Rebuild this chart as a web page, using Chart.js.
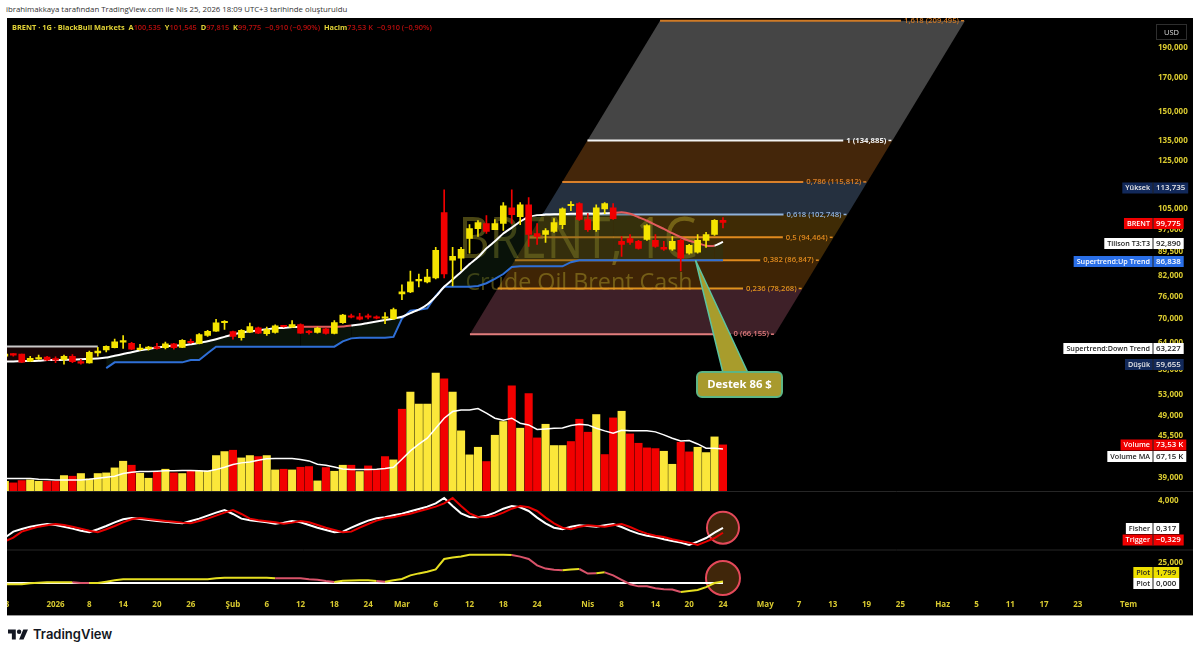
<!DOCTYPE html>
<html lang="tr">
<head>
<meta charset="utf-8">
<title>BRENT 1G</title>
<script src="https://cdn.jsdelivr.net/npm/chart.js@4/dist/chart.umd.min.js"></script>
<style>
    html, body { margin: 0; padding: 0; background: #fff; width: 1200px; height: 654px; overflow: hidden; }
    body { font-family: "Open Sans", sans-serif; position: relative; }
    #credit { position: absolute; left: 6px; top: 4px; font-size: 7.8px; color: #333; white-space: nowrap; }
    #panel { position: absolute; left: 7px; top: 18px; width: 1186px; height: 597px; background: #000; box-shadow: 0 1px 0 #999; }
    #legend { position: absolute; left: 5px; top: 4px; font-size: 7.4px; font-weight: 700; color: #e2d336; white-space: nowrap; z-index: 2; }
    #legend b { color: #b80d0d; font-weight: 600; }
    #usd { position: absolute; left: 1149px; top: 6px; width: 29px; height: 14px; border: 1px solid #2e2e2e; color: #ddd; font-size: 7.5px; text-align: center; line-height: 14px; z-index: 2; }
    #logo { position: absolute; left: 8px; top: 626px; display: flex; align-items: center; gap: 5px; color: #131722; font: 600 13px Inter, sans-serif; }
</style>
</head>
<body>
<div id="credit">ibrahimakkaya tarafından TradingView.com ile Nis 25, 2026 18:09 UTC+3 tarihinde oluşturuldu</div>
<div id="panel">
    <div id="legend">BRENT · 1G · BlackBull Markets&nbsp; A<b>100,535</b>&nbsp; Y<b>101,545</b>&nbsp; D<b>97,815</b>&nbsp; K<b>99,775</b>&nbsp; <b>−0,910 (−0,90%)</b>&nbsp; Hacim<b>73,53 K</b>&nbsp; <b>−0,910 (−0,90%)</b></div>
    <div id="usd">USD</div>
    <canvas id="chart" width="1186" height="597"></canvas>
</div>
<div id="logo">
    <svg width="20" height="11" viewBox="0 0 36 18" fill="#131722"><path d="M14 18H7V7H0V0h14v18zM28 18h-8L27.5 0H36L28 18z"/><circle cx="20" cy="4" r="4"/></svg>
    <span>TradingView</span>
</div>

<script>
// ----------------------
// DATA (price in thousands, one row per trading day)
// ----------------------
const opens = [
    61.0, 61.5, 61.5, 59.9, 60.4, 60.8, 60.35, 60.3, 61.0, 59.8,
    59.5, 61.75, 62.45, 62.95, 64.25, 64.0, 62.5, 62.75, 63.0, 62.95,
    63.85, 63.0, 64.45, 63.95, 65.85, 66.9, 69.0, 66.8, 65.3, 66.65,
    67.75, 66.3, 66.6, 68.2, 67.9, 68.55, 66.7, 66.6, 67.5, 66.35,
    69.05, 70.8, 70.55, 70.6, 70.55, 70.15, 70.05, 76.75, 77.3, 80.5,
    80.2, 81.35, 103.45, 86.85, 87.5, 94.05, 97.55, 99.4, 97.2, 99.4,
    105.3, 101.9, 106.5, 95.8, 95.45, 96.54, 99.0, 106.1, 106.9, 100.85,
    97.2, 104.9, 105.3, 93.09, 94.05, 93.09, 93.75, 93.4, 91.05, 90.4,
    93.4, 89.1, 89.45, 93.4, 95.45, 100.535
];
const closes = [
    61.5, 61.25, 59.7, 60.55, 60.7, 60.15, 60.15, 61.0, 59.8, 59.45,
    61.9, 62.15, 63.25, 64.35, 64.45, 62.6, 62.75, 62.95, 62.8, 63.85,
    62.95, 64.7, 64.1, 66.05, 66.85, 69.0, 69.25, 65.6, 67.1, 68.05,
    66.4, 67.3, 68.2, 68.0, 68.55, 66.4, 66.55, 67.65, 66.35, 69.05,
    71.0, 70.4, 69.9, 70.4, 70.15, 70.4, 72.4, 77.3, 80.2, 80.75,
    81.65, 90.05, 82.55, 88.1, 90.4, 97.55, 99.75, 96.54, 99.4, 106.1,
    102.7, 106.5, 95.45, 94.75, 96.85, 99.75, 104.9, 106.5, 100.85, 97.2,
    105.3, 106.9, 101.2, 92.05, 92.75, 90.7, 98.65, 91.4, 90.4, 93.09,
    87.5, 91.7, 93.4, 95.45, 100.535, 99.775
];
const highs = [
    61.9, 61.6, 61.5, 61.0, 61.25, 61.0, 60.9, 61.25, 61.4, 60.3,
    62.2, 63.05, 63.4, 65.0, 65.85, 64.2, 63.75, 63.25, 64.0, 64.25,
    64.0, 64.85, 64.95, 66.3, 67.1, 69.9, 69.55, 66.95, 67.3, 68.9,
    67.9, 67.9, 68.5, 68.3, 69.55, 68.7, 67.1, 67.9, 67.65, 69.55,
    71.15, 71.25, 71.45, 71.25, 70.8, 71.6, 72.85, 79.3, 83.45, 82.55,
    84.0, 91.05, 112.5, 91.05, 91.05, 99.0, 100.5, 102.3, 100.85, 107.3,
    112.5, 107.3, 109.3, 99.4, 97.55, 101.2, 105.3, 107.7, 107.3, 103.07,
    106.5, 107.3, 106.9, 94.75, 95.45, 93.4, 99.0, 95.45, 93.09, 94.75,
    93.75, 92.05, 95.45, 96.2, 100.85, 101.545
];
const lows = [
    60.55, 61.0, 59.6, 59.8, 60.3, 60.0, 59.6, 59.25, 59.6, 59.25,
    59.45, 61.0, 62.0, 62.9, 62.8, 62.5, 62.38, 62.38, 62.6, 62.65,
    62.6, 62.95, 63.95, 63.85, 65.6, 66.85, 67.3, 64.95, 64.7, 66.5,
    66.3, 65.85, 66.4, 67.9, 67.85, 66.35, 66.15, 66.4, 66.15, 66.25,
    68.85, 70.25, 69.75, 70.0, 70.0, 68.75, 69.8, 75.1, 77.05, 78.75,
    79.9, 81.05, 81.35, 79.0, 83.7, 89.1, 94.75, 95.8, 97.2, 96.85,
    99.4, 99.0, 91.4, 92.05, 92.75, 96.2, 97.55, 104.2, 100.5, 96.54,
    96.54, 103.07, 100.85, 88.1, 92.05, 90.4, 93.4, 91.05, 90.05, 90.05,
    83.46, 88.8, 89.1, 91.05, 95.1, 97.815
];
const volumes = [
    16.3, 13.7, 17.3, 18.4, 16.3, 16.3, 16.3, 25.2, 24.2, 28.4,
    20, 28.4, 29.4, 37.3, 47.8, 41.5, 28.9, 21, 30.5, 35.2,
    29.4, 28.4, 32, 32.6, 32.6, 56.7, 63, 65.1, 53, 56.7,
    55.1, 56.7, 34.1, 35.2, 34.1, 38.3, 39.4, 16.8, 37.8, 32,
    41.5, 41.5, 31.5, 40.4, 34.7, 55.1, 49.9, 129.7, 156.5, 137.6,
    137.6, 186.4, 177.5, 156.5, 95.6, 57.8, 69.8, 47.3, 88.7, 110.3,
    166.4, 99.8, 154.4, 84.5, 106, 72.5, 72.5, 78.8, 113.9, 93.5,
    121.3, 58.3, 116, 126.5, 90.8, 76.1, 68.8, 67.7, 63.5, 43,
    77.7, 62.5, 69.8, 61.4, 86.1, 73.53
];
const volumeSides = "YRRYYRRYRY" + "YYYYYRYYRY" + "RYRYYYYRYY" + "RYYRYRRYRY" + "YRYRRRYRYY" +
    "YYRYYYYRYY" + "RYRRYYYRRR" + "YRRYRRRRYY" + "RRYYYR";
const volumeMA = [
    20.5, 20.5, 20.5, 20.5, 19.5, 18.9, 18.4, 18.4, 18.4, 18.4,
    19.4, 21, 22.6, 24.1, 28.4, 30.5, 31.5, 31.5, 32, 32.6,
    32.6, 33, 33, 32.6, 32, 34.6, 38.3, 42.5, 45.2, 46.7,
    49.4, 51.5, 52, 52, 52, 50.4, 48.3, 43, 41.5, 38.8,
    35.7, 34.6, 34.6, 34.6, 35.2, 36.2, 38.3, 50.9, 64, 74.6,
    84, 99.8, 115.5, 126, 128.6, 128.6, 130.7, 123.4, 115.5, 112.4,
    115.5, 107.6, 105, 97.7, 98.7, 99.8, 100.3, 104, 106, 105,
    99.8, 95.6, 91.9, 96.6, 95.6, 95.6, 95.6, 94, 89.3, 84,
    79.8, 80.3, 75, 68.3, 68.3, 67.15
];
const tillson = [
    59.8, 59.85, 59.9, 59.95, 60.0, 60.15, 60.15, 60.2, 60.25, 60.35,
    60.45, 60.5, 60.7, 61.1, 61.5, 61.9, 62.38, 62.65, 63.0, 63.25,
    63.4, 63.5, 63.75, 64.1, 64.45, 64.95, 65.5, 66.1, 66.5, 66.85,
    67.09, 67.35, 67.6, 67.7, 67.9, 68.0, 68.0, 68.0, 68.0, 68.0,
    68.05, 68.3, 68.55, 68.95, 69.3, 69.7, 70.05, 70.55, 71.5, 72.4,
    73.8, 76.0, 78.75, 80.9, 83.15, 85.6, 87.8, 90.7, 93.09, 95.8,
    97.9, 100.12, 101.75, 102.5, 102.7, 102.8, 102.9, 103.0, 103.07, 103.07,
    103.07, 103.2, 103.3, 103.55, 103.0, 101.7, 100.4, 98.9, 97.45, 95.9,
    94.5, 93.3, 92.5, 91.6, 91.6, 92.89
];
const tillsonFalling = [35, 36, 37, 38, 39, 40, 72, 73, 74, 75, 76, 77, 78, 79, 80, 81, 82, 83];
const supertrendUp = [
    null, null, null, null, null, null, null, null, null, null,
    null, null, 58.4, 59.65, 59.65, 59.65, 59.65, 59.65, 59.65, 59.65,
    59.65, 59.65, 60.15, 60.15, 61.7, 63.2, 63.2, 63.2, 63.2, 63.2,
    63.2, 63.2, 63.2, 63.2, 63.2, 63.2, 63.2, 63.2, 63.2, 63.2,
    64.45, 65.15, 65.3, 65.3, 65.3, 65.3, 65.5, 70.05, 72.15, 72.4,
    72.75, 76.2, 78.75, 78.75, 78.75, 78.75, 79.0, 79.8, 81.05, 82.55,
    84.7, 84.9, 84.9, 84.9, 84.9, 84.9, 84.9, 86.2, 86.838, 86.838,
    86.838, 86.838, 86.838, 86.838, 86.838, 86.838, 86.838, 86.838, 86.838, 86.838,
    86.838, 86.838, 86.838, 86.838, 86.838, 86.838
];
const supertrendDown = [63.227, 63.227, 63.227, 63.227, 63.227, 63.227, 63.227, 63.227, 63.227, 63.227, 63.227, 63.227];
const fisher = [
    -1.0, -0.18, 0.18, 0.5, 0.68, 0.86, 0.73, 0.5, 0.23, -0.05,
    -0.27, 0.14, 0.59, 1.09, 1.5, 1.68, 1.55, 1.41, 1.27, 1.18,
    1.05, 0.95, 1.27, 1.59, 2.0, 2.41, 2.77, 2.23, 1.59, 1.36,
    1.23, 1.09, 0.91, 1.05, 1.27, 1.09, 0.73, 0.36, 0.05, -0.27,
    -0.18, 0.36, 0.86, 1.32, 1.64, 1.77, 2.05, 2.27, 2.59, 2.91,
    3.23, 3.68, 4.41, 3.32, 2.32, 1.82, 1.77, 2.0, 2.41, 2.95,
    3.32, 3.14, 2.64, 1.73, 0.95, 0.36, 0.14, 0.5, 0.68, 0.59,
    0.5, 0.68, 0.86, 0.45, -0.05, -0.45, -0.73, -0.91, -1.23, -1.45,
    -1.68, -2.0, -1.55, -1.05, -0.329, 0.317
];
const trigger = [
    -1.5, -1.0, -0.18, 0.18, 0.5, 0.68, 0.86, 0.73, 0.5, 0.23,
    -0.05, -0.27, 0.14, 0.59, 1.09, 1.5, 1.68, 1.55, 1.41, 1.27,
    1.18, 1.05, 0.95, 1.27, 1.59, 2.0, 2.41, 2.77, 2.23, 1.59,
    1.36, 1.23, 1.09, 0.91, 1.05, 1.27, 1.09, 0.73, 0.36, 0.05,
    -0.27, -0.18, 0.36, 0.86, 1.32, 1.64, 1.77, 2.05, 2.27, 2.59,
    2.91, 3.23, 3.68, 4.41, 3.32, 2.32, 1.82, 1.77, 2.0, 2.41,
    2.95, 3.32, 3.14, 2.64, 1.73, 0.95, 0.36, 0.14, 0.5, 0.68,
    0.59, 0.5, 0.68, 0.86, 0.45, -0.05, -0.45, -0.73, -0.91, -1.23,
    -1.45, -1.68, -2.0, -1.55, -1.05, -0.329
];
const plotLine = [
    -1.7, -1.7, -1.7, -0.4, 0.2, 0.8, 0.8, 0.8, 0.8, 0,
    0, 0, 1.7, 3.3, 4.6, 4.6, 4.6, 4.6, 4.6, 4.6,
    4.6, 4.6, 4.6, 4.6, 4.6, 6, 6.7, 6.7, 6.7, 6.7,
    6.7, 6.7, 5.8, 5.8, 5.8, 5.8, 4.6, 4.1, 2.5, 1.3,
    2.9, 3.1, 3.3, 3.3, 2.5, 1.7, 3.3, 5, 9.5, 12,
    14, 17, 30, 32, 33, 35.4, 35.4, 35.4, 35.4, 35.4,
    35, 33, 30, 22, 18, 16.5, 15.8, 17, 17.5, 11.8,
    12.3, 13.3, 9.6, 4, -1.5, -4.2, -4.2, -6.5, -7.8, -8.2,
    -11.2, -10, -8.7, -5.2, 0, 1.799
];
const plotFalling = [8, 9, 32, 33, 34, 35, 36, 37, 38, 44, 60, 61, 62, 63, 64, 65, 68, 69, 71, 72, 73, 74, 75, 76, 77, 78, 79];

const priceTicks = [190, 170, 150, 135, 125, 105, 97, 89.5, 82, 76, 70, 64, 58, 53, 49, 45.5, 42, 39];
const fisherTicks = [4];
const plotTicks = [25];
const axisLabels = ["23", "2026", "8", "14", "20", "26", "Şub", "6", "12", "18", "24", "Mar", "6", "12", "18", "24",
    "Nis", "8", "14", "20", "24", "May", "7", "13", "19", "25", "Haz", "5", "11", "17", "23", "Tem"];
const axisLabelDays = [0, 6, 10, 14, 18, 22, 27, 31, 35, 39, 43, 47, 51, 55, 59, 63,
    69, 73, 77, 81, 85, 90, 94, 98, 102, 106, 111, 115, 119, 123, 127, 133];

const fibRatios = ["1,618", "1", "0,786", "0,618", "0,5", "0,382", "0,236", "0"];
const fibPrices = [209.495, 134.885, 115.812, 102.748, 94.464, 86.847, 78.268, 66.155];
const fibLineColors = ["#cf7a26", "#f2f2f2", "#d9802a", "#8fb1dc", "#e08a1e", "#e08a1e", "#e0921e", "#e27d7d"];
const fibBandColors = ["#454545", "#44260a", "#25303f", "#3f2b05", "#3f2905", "#3f2405", "#3e2028"];
const fibLeftBottomDay = 55.05, fibLeftTopDay = 77.55, fibWidthDays = 36.1;

const priceTags = [
    ["Yüksek", "113,735", "#12295a", "#e8e8e8", 188],
    ["BRENT", "99,775", "#f00000", "#ffffff", 223.5],
    ["Tillson T3:T3", "92,890", "#ffffff", "#222222", 243.5],
    ["Supertrend:Up Trend", "86,838", "#2a6fe8", "#ffffff", 261.5],
    ["Supertrend:Down Trend", "63,227", "#ffffff", "#222222", 348.5],
    ["Düşük", "59,655", "#12295a", "#e8e8e8", 364.5],
    ["Volume", "73,53 K", "#f00000", "#ffffff", 445],
    ["Volume MA", "67,15 K", "#ffffff", "#222222", 456.5],
    ["Fisher", "0,317", "#ffffff", "#222222", 528.5],
    ["Trigger", "−0,329", "#f00000", "#ffffff", 540],
    ["Plot", "1,799", "#eee000", "#222222", 572.5],
    ["Plot", "0,000", "#ffffff", "#222222", 583.5]
];

// ----------------------
// HELPERS
// ----------------------
const YELLOW = "#f5e400", RED = "#f00000", AXIS_YELLOW = "#d9ca30";
const FONT = '"Open Sans", sans-serif';
const lastDay = opens.length - 1;
const series = arr => arr.map((y, x) => ({ x, y }));
const candleColor = (o, c) => (c >= o ? YELLOW : RED);
const comma = v => v.toFixed(3).replace(".", ",");
const fixAxisWidth = scale => { scale.width = 40; scale.paddingTop = 0; scale.paddingBottom = 0; };

const candleColors = opens.map((o, i) => candleColor(o, closes[i]));

// ----------------------
// PLUGINS
// ----------------------
const backdrop = {
    id: "backdrop",
    beforeDatasetsDraw(chart) {
        const { ctx, scales } = chart;
        const x = scales.x, y = scales.y;
        ctx.save();

        // fib channel
        const yTop = y.getPixelForValue(fibPrices[0]);
        const yBot = y.getPixelForValue(fibPrices[fibPrices.length - 1]);
        const xTop = x.getPixelForValue(fibLeftTopDay);
        const xBot = x.getPixelForValue(fibLeftBottomDay);
        const width = x.getPixelForValue(fibLeftBottomDay + fibWidthDays) - xBot;
        const leftAt = py => xBot + (py - yBot) / (yTop - yBot) * (xTop - xBot);

        fibBandColors.forEach((color, i) => {
            const a = y.getPixelForValue(fibPrices[i]);
            const b = y.getPixelForValue(fibPrices[i + 1]);
            ctx.fillStyle = color;
            ctx.beginPath();
            ctx.moveTo(leftAt(a), a);
            ctx.lineTo(leftAt(a) + width, a);
            ctx.lineTo(leftAt(b) + width, b);
            ctx.lineTo(leftAt(b), b);
            ctx.closePath();
            ctx.fill();
        });

        // watermark
        ctx.textAlign = "center";
        ctx.textBaseline = "alphabetic";
        ctx.fillStyle = "rgba(236,222,60,0.31)";
        ctx.save();
        ctx.translate(571.5, 240);
        ctx.scale(0.855, 1);
        ctx.font = "57px " + FONT;
        ctx.fillText("BRENT, 1G", 0, 0);
        ctx.restore();
        ctx.font = "23.3px " + FONT;
        ctx.fillText("Crude Oil Brent Cash", 572, 272);

        ctx.textAlign = "left";
        ctx.textBaseline = "middle";
        fibPrices.forEach((price, i) => {
            const py = y.getPixelForValue(price);
            const left = leftAt(py), right = left + width;
            const label = fibRatios[i] + " (" + comma(price) + ")";
            ctx.font = (fibRatios[i] === "1" ? "700 " : "600 ") + "7.7px " + FONT;
            const labelWidth = ctx.measureText(label).width;
            const labelX = right - labelWidth - 6;
            ctx.strokeStyle = fibLineColors[i];
            ctx.fillStyle = fibLineColors[i];
            ctx.lineWidth = 2;
            ctx.beginPath();
            ctx.moveTo(left, py);
            ctx.lineTo(labelX - 3, py);
            ctx.stroke();
            ctx.fillText(label, labelX, py);
            ctx.lineWidth = 1.5;
            ctx.beginPath();
            ctx.moveTo(right - 4, py);
            ctx.lineTo(right - 1, py);
            ctx.stroke();
        });
        ctx.restore();
    },
    afterDatasetsDraw(chart) {
        const { ctx, scales } = chart;
        ctx.save();

        // pane separators
        ctx.strokeStyle = "#262626";
        ctx.lineWidth = 1;
        [scales.yFisher.top, scales.yPlot.top].forEach(py => {
            ctx.beginPath();
            ctx.moveTo(0, py);
            ctx.lineTo(chart.width, py);
            ctx.stroke();
        });

        // "Destek 86 $" callout
        const apexX = scales.x.getPixelForValue(81.75);
        const apexY = scales.y.getPixelForValue(86.838);
        ctx.fillStyle = "#a89c2c";
        ctx.strokeStyle = "#5cc3a0";
        ctx.lineWidth = 1.5;
        ctx.beginPath();
        ctx.moveTo(apexX, apexY);
        ctx.lineTo(716, 355);
        ctx.lineTo(741, 355);
        ctx.closePath();
        ctx.fill();
        ctx.stroke();
        ctx.fillStyle = "#a89a2e";
        ctx.strokeStyle = "#5db585";
        ctx.lineWidth = 2;
        ctx.beginPath();
        ctx.roundRect(690, 354, 85, 25, 5);
        ctx.fill();
        ctx.stroke();
        ctx.fillStyle = "#ffffff";
        ctx.font = "700 11.3px " + FONT;
        ctx.textAlign = "center";
        ctx.textBaseline = "middle";
        ctx.fillText("Destek 86 $", 732.5, 367);
        ctx.restore();
    },
    afterDraw(chart) {
        const { ctx } = chart;
        ctx.save();
        ctx.textBaseline = "middle";
        const axisLeft = chart.chartArea.right;
        priceTags.forEach(([name, value, fill, ink, pageY]) => {
            const py = pageY - 18;
            ctx.font = "600 7.9px " + FONT;
            const valueWidth = ctx.measureText(value).width + 6;
            ctx.font = "600 7.2px " + FONT;
            const nameWidth = ctx.measureText(name).width + 6;
            ctx.fillStyle = fill;
            ctx.fillRect(axisLeft - nameWidth, py - 5.5, nameWidth + valueWidth, 11);
            ctx.fillStyle = "#222";
            ctx.fillRect(axisLeft - 0.5, py - 5.5, 1, 11);
            ctx.fillStyle = ink;
            ctx.textAlign = "right";
            ctx.fillText(name, axisLeft - 3, py);
            ctx.font = "600 7.9px " + FONT;
            ctx.textAlign = "left";
            ctx.fillText(value, axisLeft + 3, py);
        });
        ctx.restore();
    }
};

// ----------------------
// CHART
// ----------------------
const rightAxis = (ticks, extra) => Object.assign({
    position: "right",
    stack: "panes",
    grid: { display: false, drawTicks: false },
    border: { display: false },
    afterFit: fixAxisWidth,
    afterBuildTicks: scale => { scale.ticks = ticks.map(value => ({ value })); },
    ticks: {
        color: AXIS_YELLOW,
        padding: 5,
        autoSkip: false,
        font: { size: 8, weight: "700", family: FONT },
        callback: v => comma(v)
    }
}, extra);

new Chart(document.getElementById("chart"), {
    type: "bar",
    data: {
        datasets: [
            // 0: T3 is first so the supertrend fills can refer to it
            {
                type: "line", label: "Tillson T3", data: series(tillson), yAxisID: "y", order: 4,
                borderColor: "#ffffff", borderWidth: 2, pointRadius: 0, tension: 0.2,
                segment: { borderColor: c => (tillsonFalling.includes(c.p0DataIndex) ? "#e45c5c" : "#ffffff") }
            },
            {
                type: "line", label: "Supertrend Up", data: series(supertrendUp), yAxisID: "y", order: 5,
                borderColor: "#2f6fd6", borderWidth: 2, pointRadius: 0,
                fill: { target: 0, above: "rgba(30,60,30,0.3)", below: "rgba(30,60,30,0.3)" }
            },
            {
                type: "line", label: "Supertrend Down", data: series(supertrendDown), yAxisID: "y", order: 5,
                borderColor: "#c8c8c8", borderWidth: 2, pointRadius: 0,
                fill: { target: 0, above: "rgba(120,20,20,0.2)", below: "rgba(120,20,20,0.2)" }
            },
            {
                label: "Wicks", yAxisID: "y", order: 3, grouped: false, barThickness: 1,
                data: highs.map((h, i) => ({ x: i, y: [lows[i], h] })),
                backgroundColor: candleColors
            },
            {
                label: "Candles", yAxisID: "y", order: 2, grouped: false, barThickness: 6, minBarLength: 1.5,
                data: opens.map((o, i) => ({ x: i, y: [o, closes[i]] })),
                backgroundColor: candleColors
            },
            {
                label: "Volume", yAxisID: "yVol", order: 9, grouped: false, barThickness: 7.4,
                data: series(volumes),
                backgroundColor: volumes.map((v, i) => (volumeSides[i] === "Y" ? "#fbe73a" : "#f20000"))
            },
            {
                type: "line", label: "Volume MA", data: series(volumeMA), yAxisID: "yVol", order: 8,
                borderColor: "#ffffff", borderWidth: 1.5, pointRadius: 0
            },
            {
                type: "line", label: "Fisher mark", data: [{ x: lastDay, y: 0.36 }], yAxisID: "yFisher", order: 7, showLine: false,
                pointRadius: 16, pointBackgroundColor: "#40260a", pointBorderColor: "#e4495a", pointBorderWidth: 2
            },
            {
                type: "line", label: "Fisher", data: series(fisher), yAxisID: "yFisher", order: 5,
                borderColor: "#ffffff", borderWidth: 2, pointRadius: 0
            },
            {
                type: "line", label: "Trigger", data: series(trigger), yAxisID: "yFisher", order: 4,
                borderColor: "#e60000", borderWidth: 2, pointRadius: 0
            },
            {
                type: "line", label: "Plot mark", data: [{ x: lastDay, y: 6.25 }], yAxisID: "yPlot", order: 7, showLine: false,
                pointRadius: 17, pointBackgroundColor: "#40260a", pointBorderColor: "#e4495a", pointBorderWidth: 2
            },
            {
                type: "line", label: "Plot zero", data: [{ x: 0, y: 0 }, { x: lastDay, y: 0 }], yAxisID: "yPlot", order: 5,
                borderColor: "#ffffff", borderWidth: 2, pointRadius: 0
            },
            {
                type: "line", label: "Plot", data: series(plotLine), yAxisID: "yPlot", order: 4,
                borderColor: "#e6df20", borderWidth: 2, pointRadius: 0,
                segment: { borderColor: c => (plotFalling.includes(c.p0DataIndex) ? "#d9536a" : "#e6df20") }
            }
        ]
    },
    options: {
        responsive: false,
        animation: false,
        events: [],
        layout: { padding: 0, autoPadding: false },
        plugins: { legend: { display: false }, tooltip: { enabled: false } },
        scales: {
            x: {
                type: "linear",
                offset: false,
                min: 0.254,
                max: 135.9,
                grid: { display: false, drawTicks: false, offset: false },
                border: { display: false },
                afterFit: scale => { scale.height = 18; scale.paddingLeft = 0; scale.paddingRight = 0; },
                afterBuildTicks: scale => { scale.ticks = axisLabelDays.map(value => ({ value })); },
                ticks: {
                    color: AXIS_YELLOW,
                    padding: 3,
                    autoSkip: false,
                    maxRotation: 0,
                    font: { size: 8, weight: "700", family: FONT },
                    callback: v => axisLabels[axisLabelDays.indexOf(v)]
                }
            },
            y: rightAxis(priceTicks, { type: "logarithmic", min: 37.1, max: 211.6, stackWeight: 473.5, weight: 1 }),
            yFisher: rightAxis(fisherTicks, { min: -2.685, max: 5.296, stackWeight: 58.5, weight: 2 }),
            yPlot: rightAxis(plotTicks, { min: -17.5, max: 41.25, stackWeight: 47, weight: 3 }),
            yVol: { position: "right", display: false, min: -166, max: 745.7 }
        }
    },
    plugins: [backdrop]
});
</script>
</body>
</html>
